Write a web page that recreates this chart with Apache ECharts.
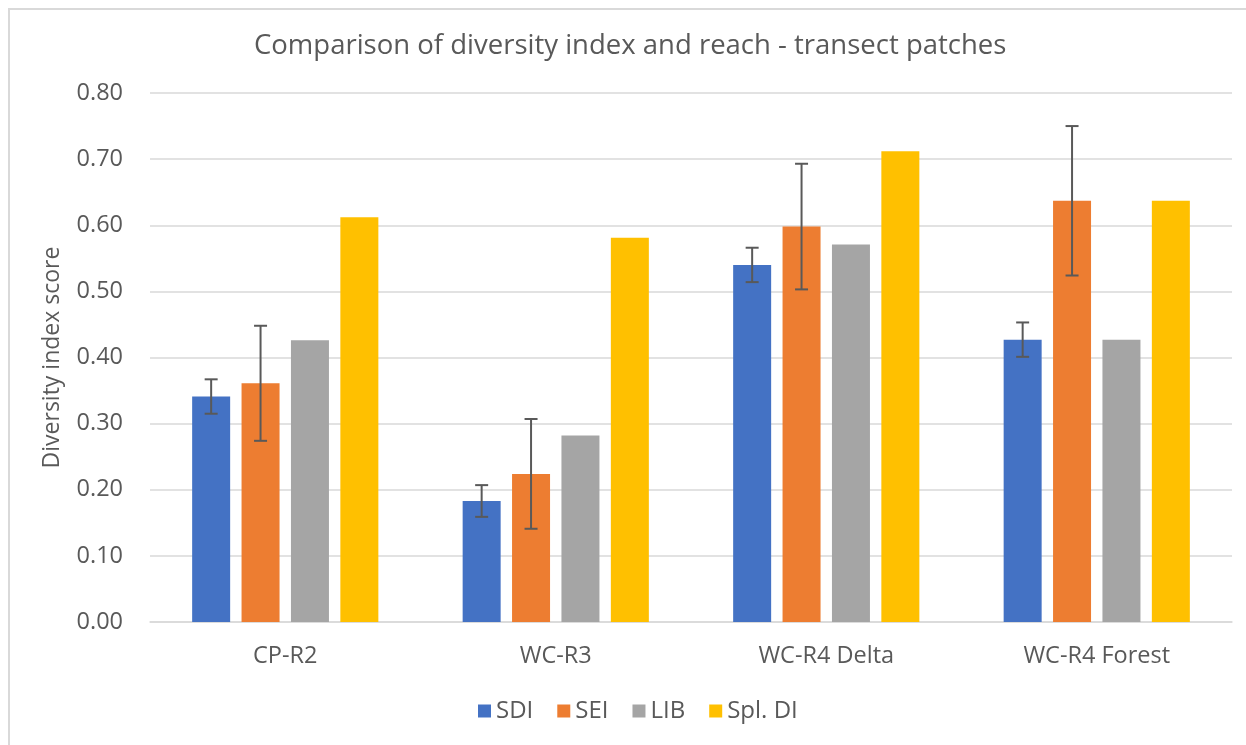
<!DOCTYPE html>
<html>
<head>
<meta charset="utf-8">
<script src="https://cdn.jsdelivr.net/npm/echarts@6/dist/echarts.min.js"></script>
<style>
html,body{margin:0;padding:0;background:#fff;}
#chart{width:1246px;height:745px;}
</style>
</head>
<body>
<div id="chart"></div>
<script>
var categories = ['CP-R2', 'WC-R3', 'WC-R4 Delta', 'WC-R4 Forest'];
var seriesNames = ['SDI', 'SEI', 'LIB', 'Spl. DI'];
var sdi = [0.341, 0.183, 0.540, 0.427];
var sdiErr = [0.026, 0.024, 0.026, 0.026];
var sei = [0.361, 0.224, 0.598, 0.637];
var seiErr = [0.087, 0.083, 0.095, 0.113];
var lib = [0.426, 0.282, 0.571, 0.427];
var splDi = [0.612, 0.581, 0.712, 0.637];
var yTicks = [0, 0.1, 0.2, 0.3, 0.4, 0.5, 0.6, 0.7, 0.8];

var colors = ['#4472C4', '#ED7D31', '#A5A5A5', '#FFC000'];
var textColor = '#595959';
var FONT = 'Open Sans';
var BAR_W = 38;
var GAP = 11.4;

function errData(vals, errs) {
  return vals.map(function (v, i) { return [i, v - errs[i], v + errs[i]]; });
}
function errSeries(vals, errs, seriesIdx) {
  var offset = (seriesIdx - 1.5) * (BAR_W + GAP);
  return {
    type: 'custom',
    z: 10,
    silent: true,
    data: errData(vals, errs),
    encode: { x: 0, y: [1, 2] },
    renderItem: function (params, api) {
      var lo = api.coord([api.value(0), api.value(1)]);
      var hi = api.coord([api.value(0), api.value(2)]);
      var x = lo[0] + offset;
      var half = 6.5;
      var st = { stroke: textColor, lineWidth: 2 };
      return {
        type: 'group',
        children: [
          { type: 'line', shape: { x1: x, y1: lo[1], x2: x, y2: hi[1] }, style: st },
          { type: 'line', shape: { x1: x - half, y1: lo[1], x2: x + half, y2: lo[1] }, style: st },
          { type: 'line', shape: { x1: x - half, y1: hi[1], x2: x + half, y2: hi[1] }, style: st }
        ]
      };
    }
  };
}

var chart = echarts.init(document.getElementById('chart'));
var barData = [sdi, sei, lib, splDi];
var series = barData.map(function (d, i) {
  return {
    name: seriesNames[i],
    type: 'bar',
    data: d,
    barWidth: BAR_W,
    barGap: (GAP / BAR_W * 100).toFixed(1) + '%',
    itemStyle: { color: colors[i] }
  };
});
series.push(errSeries(sdi, sdiErr, 0));
series.push(errSeries(sei, seiErr, 1));

chart.setOption({
  backgroundColor: '#fff',
  animation: false,
  graphic: [{
    type: 'rect',
    shape: { x: 9, y: 9, width: 1400, height: 900 },
    style: { fill: 'none', stroke: '#d9d9d9', lineWidth: 2 },
    silent: true
  }],
  title: {
    text: 'Comparison of diversity index and reach - transect patches',
    left: 249,
    top: 27,
    textStyle: { fontFamily: FONT, fontSize: 27.5, fontWeight: 'normal', color: textColor }
  },
  legend: {
    data: seriesNames,
    bottom: 17,
    left: 473,
    icon: 'rect',
    itemWidth: 13,
    itemHeight: 13,
    itemGap: 24,
    textStyle: { fontFamily: FONT, fontSize: 24, color: textColor }
  },
  grid: { left: 150, right: 14, top: 93, bottom: 123 },
  xAxis: {
    type: 'category',
    data: categories,
    axisLine: { lineStyle: { color: '#d9d9d9', width: 1.5 } },
    axisTick: { show: false },
    axisLabel: { fontFamily: FONT, fontSize: 23.5, color: textColor, margin: 22 }
  },
  yAxis: {
    type: 'value',
    min: yTicks[0],
    max: yTicks[yTicks.length - 1],
    interval: 0.1,
    name: 'Diversity index score',
    nameLocation: 'middle',
    nameRotate: 90,
    nameGap: 86,
    nameTextStyle: { fontFamily: FONT, fontSize: 23, color: textColor },
    axisLine: { show: false },
    axisTick: { show: false },
    splitLine: { lineStyle: { color: '#d9d9d9', width: 1.5 } },
    axisLabel: {
      fontFamily: FONT, fontSize: 23.5, color: textColor, margin: 27,
      formatter: function (v) { return v.toFixed(2); }
    }
  },
  series: series
});
</script>
</body>
</html>
